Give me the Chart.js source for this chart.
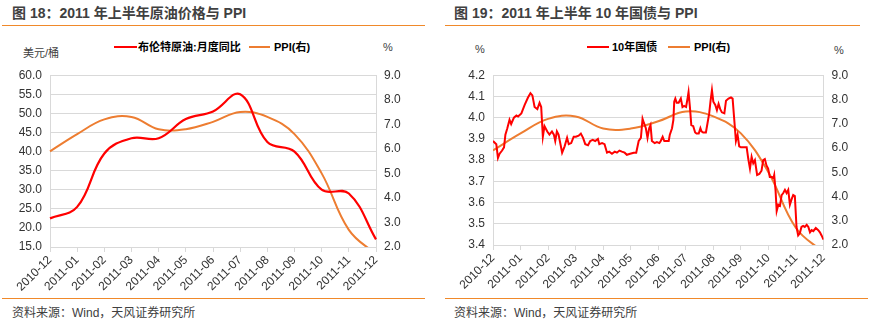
<!DOCTYPE html>
<html lang="zh">
<head>
    <meta charset="UTF-8">
    <title>2011 原油价格、10年国债与 PPI</title>
    <script src="https://cdn.jsdelivr.net/npm/chart.js"></script>
    <style>
        body {
            margin: 0;
            width: 875px;
            height: 322px;
            position: relative;
            overflow: hidden;
            background: #fff;
            font-family: "Liberation Sans", "Noto Sans CJK SC", sans-serif;
        }
        .title {
            position: absolute;
            top: 4px;
            font-size: 14px;
            font-weight: bold;
            line-height: 18px;
            color: #404040;
            white-space: nowrap;
        }
        .rule {
            position: absolute;
            height: 1px;
            background: #F0892A;
        }
        .source {
            position: absolute;
            top: 305px;
            font-size: 12px;
            line-height: 16px;
            color: #404040;
            white-space: nowrap;
        }
        .lg {
            position: absolute;
            top: 40px;
            font-size: 11px;
            font-weight: bold;
            line-height: 14px;
            color: #000;
            white-space: nowrap;
        }
        .sw {
            position: absolute;
            top: 46px;
            height: 2px;
        }
        .unit {
            position: absolute;
            font-size: 11px;
            line-height: 14px;
            color: #404040;
            white-space: nowrap;
        }
        canvas {
            position: absolute;
            top: 60px;
        }
    </style>
</head>
<body>
    <div class="title" style="left:12px">图 18：2011 年上半年原油价格与 PPI</div>
    <div class="rule" style="left:2px; width:423px; top:25px"></div>
    <div class="title" style="left:454px">图 19：2011 年上半年 10 年国债与 PPI</div>
    <div class="rule" style="left:445px; width:415px; top:25px"></div>

    <div class="sw" style="left:114px; width:23px; background:#FF0000"></div>
    <div class="lg" style="left:138px">布伦特原油:月度同比</div>
    <div class="sw" style="left:249px; width:21px; background:#ED7D31"></div>
    <div class="lg" style="left:274px">PPI(右)</div>
    <div class="unit" style="left:23px; top:46px">美元/桶</div>
    <div class="unit" style="left:383px; top:40px">%</div>

    <div class="sw" style="left:587px; width:22px; background:#FF0000"></div>
    <div class="lg" style="left:612px">10年国债</div>
    <div class="sw" style="left:668px; width:22px; background:#ED7D31"></div>
    <div class="lg" style="left:694px">PPI(右)</div>
    <div class="unit" style="left:475px; top:42px">%</div>
    <div class="unit" style="left:834px; top:43px">%</div>

    <canvas id="oil-chart" width="440" height="238" style="left:0"></canvas>
    <canvas id="bond-chart" width="435" height="238" style="left:440px"></canvas>

    <div class="rule" style="left:2px; width:423px; top:298px"></div>
    <div class="rule" style="left:445px; width:423px; top:298px"></div>
    <div class="source" style="left:12px">资料来源：Wind，天风证券研究所</div>
    <div class="source" style="left:454px">资料来源：Wind，天风证券研究所</div>

    <script>
        // month labels, shared by both charts
        const months = ['2010-12', '2011-01', '2011-02', '2011-03', '2011-04', '2011-05', '2011-06',
                        '2011-07', '2011-08', '2011-09', '2011-10', '2011-11', '2011-12'];

        // 布伦特原油:月度同比 (left axis)
        const brentYoY = [22.5, 25.5, 39.5, 43.5, 43.5, 48.5, 50.5, 55.0, 42.5, 40.0, 30.0, 29.0, 17.0];

        // PPI yoy, % (right axis, both charts)
        const ppi = [5.9, 6.6, 7.2, 7.3, 6.8, 6.8, 7.1, 7.5, 7.3, 6.6, 5.0, 2.7, 1.7];

        // 10年国债 yield; position is in months since 2010-12
        const bondPos = [
            0, 0.12, 0.18, 0.24, 0.33, 0.40, 0.45, 0.52, 0.60, 0.66, 0.76, 0.85, 0.91, 1.03, 1.15, 1.27,
            1.36, 1.43, 1.51, 1.61, 1.69, 1.75, 1.81, 1.87, 1.97, 2.05, 2.14, 2.21, 2.26, 2.32, 2.38, 2.45,
            2.51, 2.60, 2.69, 2.75, 2.84, 2.93, 3.01,
            3.11, 3.19, 3.27, 3.35, 3.45, 3.53, 3.62, 3.71, 3.81, 3.86, 3.96, 4.05, 4.14, 4.22, 4.32, 4.42,
            4.50, 4.59, 4.68, 4.78, 4.86, 4.98, 5.11, 5.20, 5.29, 5.37, 5.43, 5.48, 5.55, 5.61, 5.67, 5.72,
            5.77, 5.87, 5.95, 6.04,
            6.09, 6.16, 6.22, 6.30, 6.38, 6.42, 6.50, 6.55, 6.58, 6.62, 6.67, 6.74, 6.82, 6.88, 6.94, 7.01,
            7.07, 7.10, 7.15, 7.20, 7.27, 7.34, 7.39, 7.47, 7.53, 7.57, 7.63, 7.73, 7.79, 7.85, 7.90, 7.95,
            8.00, 8.07, 8.13, 8.19, 8.25, 8.31, 8.40, 8.46, 8.55, 8.64, 8.70, 8.76, 8.82, 8.88, 8.94, 9.00,
            9.09,
            9.21, 9.27, 9.33, 9.39, 9.45, 9.51, 9.59, 9.67, 9.75, 9.81, 9.87, 9.93, 9.99, 10.05, 10.12, 10.18,
            10.21, 10.26, 10.30, 10.36, 10.42, 10.48, 10.54, 10.60, 10.66, 10.72, 10.78, 10.84, 10.90, 10.96,
            11.02, 11.08, 11.14, 11.20, 11.26, 11.32, 11.39, 11.45, 11.51, 11.57, 11.63, 11.72, 11.81, 11.87,
            11.93, 12.00
        ];
        const bondYield = [
            3.89, 3.875, 3.81, 3.83, 3.845, 3.86, 3.92, 3.95, 3.99, 3.97, 4.00, 4.01, 4.005, 4.02, 4.06, 4.095,
            4.115, 4.105, 4.05, 4.04, 4.07, 4.05, 3.91, 3.96, 3.935, 3.92, 3.935, 3.92, 3.89, 3.935, 3.92, 3.875,
            3.835, 3.865, 3.905, 3.875, 3.88, 3.91, 3.91,
            3.915, 3.925, 3.905, 3.875, 3.87, 3.89, 3.895, 3.89, 3.90, 3.875, 3.88, 3.875, 3.835, 3.84, 3.83, 3.84,
            3.835, 3.845, 3.84, 3.835, 3.825, 3.83, 3.835, 3.835, 3.89, 3.905, 3.995, 3.975, 3.95, 3.905, 3.95, 3.965,
            3.89, 3.88, 3.885, 3.88,
            3.89, 3.91, 3.89, 3.89, 3.89, 3.92, 3.95, 3.99, 4.075, 4.09, 4.07, 4.07, 4.09, 4.05, 4.055, 4.05,
            4.095, 4.12, 4.05, 3.965, 3.96, 3.93, 3.925, 3.925, 3.95, 3.935, 3.93, 3.93, 3.975, 4.02, 4.08, 4.13,
            4.075, 4.06, 4.035, 4.065, 4.04, 4.025, 4.02, 4.08, 4.09, 4.095, 4.09, 3.99, 3.89, 3.92, 3.865, 3.86,
            3.86,
            3.86, 3.805, 3.76, 3.815, 3.785, 3.80, 3.73, 3.735, 3.75, 3.80, 3.805, 3.775, 3.76, 3.72, 3.72, 3.715,
            3.73, 3.655, 3.56, 3.59, 3.585, 3.635, 3.645, 3.66, 3.645, 3.66, 3.59, 3.615, 3.635, 3.63,
            3.485, 3.445, 3.455, 3.485, 3.49, 3.485, 3.495, 3.485, 3.46, 3.47, 3.465, 3.48, 3.47, 3.46,
            3.445, 3.425
        ];

        const RED = '#FF0000';
        const ORANGE = '#ED7D31';
        const GRID = '#D9D9D9';

        Chart.defaults.font.family = '"Liberation Sans", "Noto Sans CJK SC", sans-serif';
        Chart.defaults.font.size = 12;
        Chart.defaults.color = '#333';

        function valueAxis(pos, min, max, step, width, showGrid) {
            return {
                position: pos,
                min: min,
                max: max,
                ticks: {
                    stepSize: step,
                    padding: 8,
                    callback: v => v.toFixed(1)
                },
                grid: {
                    display: true,
                    drawOnChartArea: showGrid,
                    drawTicks: false,
                    color: GRID
                },
                border: { display: true, color: GRID },
                afterFit: scale => { scale.width = width; }
            };
        }

        function monthAxis(height, extra) {
            return Object.assign({
                grid: {
                    display: true,
                    drawOnChartArea: false,
                    drawTicks: true,
                    tickLength: 5,
                    color: GRID
                },
                border: { display: true, color: GRID },
                ticks: {
                    autoSkip: false,
                    minRotation: 45,
                    maxRotation: 45,
                    padding: 1
                },
                afterFit: scale => { scale.height = height; }
            }, extra);
        }

        const common = {
            responsive: false,
            animation: false,
            devicePixelRatio: 1,
            plugins: {
                legend: { display: false },
                tooltip: { enabled: false }
            },
            elements: { point: { radius: 0 } }
        };

        // chart 18: oil vs PPI
        new Chart(document.getElementById('oil-chart'), {
            type: 'line',
            data: {
                labels: months,
                datasets: [
                    {
                        label: '布伦特原油:月度同比',
                        data: brentYoY,
                        yAxisID: 'y',
                        borderColor: RED,
                        borderWidth: 2.2,
                        tension: 0.4
                    },
                    {
                        label: 'PPI(右)',
                        data: ppi,
                        yAxisID: 'y1',
                        borderColor: ORANGE,
                        borderWidth: 2,
                        tension: 0.4
                    }
                ]
            },
            options: Object.assign({}, common, {
                layout: { padding: { top: 10, left: 0, right: 0, bottom: 0 } },
                scales: {
                    x: monthAxis(51, {}),
                    y: valueAxis('left', 15, 60, 5, 50, true),
                    y1: valueAxis('right', 2, 9, 1, 64, false)
                }
            })
        });

        // chart 19: 10y bond vs PPI
        new Chart(document.getElementById('bond-chart'), {
            type: 'line',
            data: {
                datasets: [
                    {
                        label: '10年国债',
                        data: bondPos.map((p, i) => ({ x: p, y: bondYield[i] })),
                        yAxisID: 'y',
                        borderColor: RED,
                        borderWidth: 2,
                        tension: 0
                    },
                    {
                        label: 'PPI(右)',
                        data: ppi.map((v, i) => ({ x: i, y: v })),
                        yAxisID: 'y1',
                        borderColor: ORANGE,
                        borderWidth: 2,
                        tension: 0.4
                    }
                ]
            },
            options: Object.assign({}, common, {
                layout: { padding: { top: 10.7, left: 0, right: 0, bottom: 0 } },
                scales: {
                    x: monthAxis(53, {
                        type: 'linear',
                        min: 0,
                        max: 12,
                        ticks: {
                            autoSkip: false,
                            minRotation: 45,
                            maxRotation: 45,
                            padding: 1,
                            stepSize: 1,
                            callback: v => months[v]
                        }
                    }),
                    y: valueAxis('left', 3.4, 4.2, 0.1, 53, true),
                    y1: valueAxis('right', 2, 9, 1, 51.5, false)
                }
            })
        });
    </script>
</body>
</html>
